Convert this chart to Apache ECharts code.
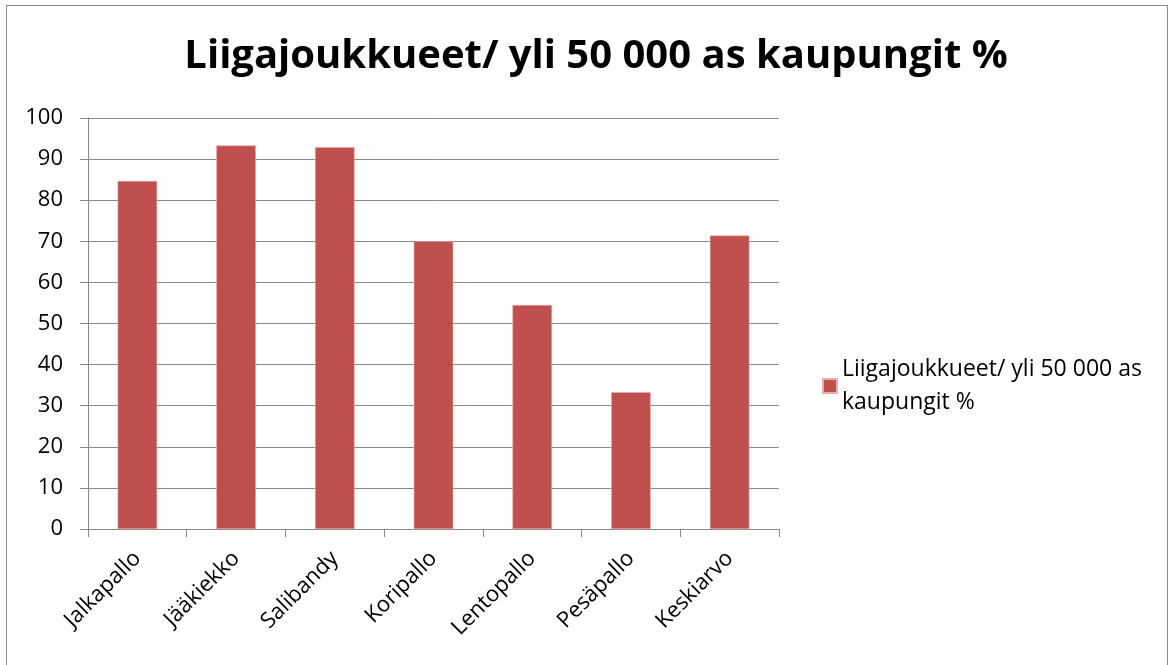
<!DOCTYPE html>
<html><head><meta charset="utf-8">
<script src="https://cdn.jsdelivr.net/npm/echarts@6/dist/echarts.min.js"></script>
<style>html,body{margin:0;padding:0;background:#fff}
#frame{position:absolute;left:6px;top:5px;width:1162px;height:670px;border:1px solid #8c8c8c;box-sizing:border-box}
#c{position:absolute;left:0;top:0;width:1170px;height:665px}</style>
</head><body><div id="frame"></div><div id="c"></div>
<script>
const categories = ['Jalkapallo','Jääkiekko','Salibandy','Koripallo','Lentopallo','Pesäpallo','Keskiarvo'];
const values = [84.7, 93.3, 92.9, 70.0, 54.5, 33.3, 71.4];
const seriesName = 'Liigajoukkueet/ yli 50 000 as kaupungit %';
const titleText = 'Liigajoukkueet/ yli 50 000 as kaupungit %';
const font = '"Open Sans", "Liberation Sans", sans-serif';
const chart = echarts.init(document.getElementById('c'));
chart.setOption({
  animation:false,
  title:{text:titleText,left:591,top:32,textAlign:'center',
    textStyle:{fontFamily:font,fontSize:40,fontWeight:'bold',color:'#000'}},
  grid:{left:88,right:391,top:118,bottom:136,containLabel:false},
  legend:{orient:'vertical',left:817,top:348,itemWidth:14,itemHeight:14,itemGap:0,
    icon:'rect',
    textStyle:{fontFamily:font,fontSize:23,color:'#000',width:320,overflow:'break',lineHeight:33},
    data:[{name:seriesName}]},
  xAxis:{type:'category',data:categories,
    axisLine:{lineStyle:{color:'#888',width:1}},
    axisTick:{show:true,length:8,lineStyle:{color:'#888'}},
    axisLabel:{rotate:45,fontFamily:font,fontSize:22,color:'#000',margin:26,interval:0}},
  yAxis:{type:'value',min:0,max:100,interval:10,
    axisLine:{show:true,lineStyle:{color:'#888'}},
    axisTick:{show:true,length:8,lineStyle:{color:'#888'}},
    splitLine:{lineStyle:{color:'#8a8a8a',width:1}},
    axisLabel:{fontFamily:font,fontSize:22,color:'#000',margin:25}},
  series:[{name:seriesName,type:'bar',data:values,barWidth:'40%',
    itemStyle:{color:'#c0504d',borderColor:'#e6b0ae',borderWidth:0.5}}]
});
</script></body></html>
